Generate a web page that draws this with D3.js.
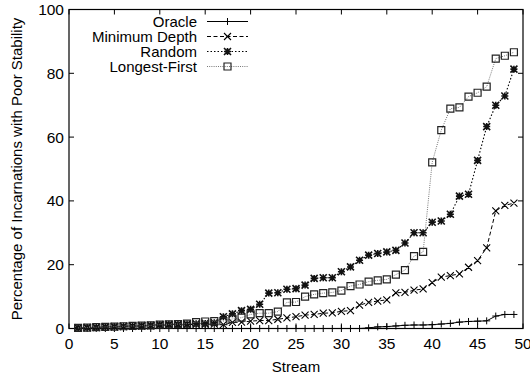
<!DOCTYPE html>
<html><head><meta charset="utf-8">
<script src="https://cdn.jsdelivr.net/npm/d3@7"></script>
<style>html,body{margin:0;padding:0;background:#fff}svg{display:block}text{font-family:"Liberation Sans",Arial,Helvetica,sans-serif;fill:#000}</style>
</head><body><svg id="c" width="530" height="376"></svg>
<script>
const streams = d3.range(1, 50);
const oracle = [0,0,0,0,0,0,0,0,0,0, 0,0,0,0,0,0,0,0,0,0, 0,0,0,0,0,0,0,0,0,0, 0,0,0.2,0.5,0.6,0.8,1.0,1.1,1.1,1.2, 1.4,1.6,2.0,2.2,2.3,2.4,3.9,4.4,4.4];
const minDepth = [0.1,0.2,0.3,0.4,0.5,0.6,0.7,0.8,0.9,1.0, 1.1,1.1,1.2,1.3,1.3,1.4,1.2,1.9,2.0,2.3, 2.5,2.5,2.9,3.3,3.7,4.2,4.4,4.8,4.9,5.4, 5.6,7.3,8.2,8.6,9.0,11.2,11.3,12.0,12.4,14.4, 16.1,16.6,17.1,19.2,21.3,25.3,36.9,38.6,39.3];
const random = [0.2,0.3,0.4,0.5,0.6,0.7,0.8,0.9,1.0,1.2, 1.3,1.3,1.4,1.5,1.6,1.8,3.7,4.6,5.6,6.0, 7.6,11.1,11.2,12.3,12.5,13.6,15.7,15.9,15.9,17.8, 19.3,21.4,23.0,23.5,24.0,24.5,26.8,30.0,30.0,33.3, 33.7,35.8,41.5,42.1,52.7,63.3,70.0,72.9,81.3];
const longestFirst = [0.2,0.3,0.4,0.5,0.6,0.7,0.8,0.9,1.0,1.2, 1.3,1.4,1.5,2.0,2.2,2.3,2.3,3.0,3.4,4.4, 4.8,4.8,5.3,8.2,8.3,10.0,10.7,11.1,11.3,11.9, 13.3,13.8,14.7,15.1,15.4,16.9,18.3,22.7,24.0,52.1, 62.2,68.9,69.3,72.7,73.9,75.8,84.6,85.5,86.6];
const seriesNames = ["Oracle", "Minimum Depth", "Random", "Longest-First"];
const xTicks = [0,5,10,15,20,25,30,35,40,45,50];
const yTicks = [0,20,40,60,80,100];

const svg = d3.select("#c");
const L = 69, R = 523, T = 9.5, B = 328.5;
const x = d3.scaleLinear().domain([0,50]).range([L,R]);
const y = d3.scaleLinear().domain([0,100]).range([B,T]);

// ticks (inward, mirrored)
const tk = 5;
const g = svg.append("g").attr("stroke","#000").attr("stroke-width",1);
xTicks.forEach(t=>{
  g.append("line").attr("x1",x(t)).attr("x2",x(t)).attr("y1",B).attr("y2",B-tk);
  g.append("line").attr("x1",x(t)).attr("x2",x(t)).attr("y1",T).attr("y2",T+tk);
});
yTicks.forEach(t=>{
  g.append("line").attr("x1",L).attr("x2",L+tk).attr("y1",y(t)).attr("y2",y(t));
  g.append("line").attr("x1",R).attr("x2",R-tk).attr("y1",y(t)).attr("y2",y(t));
});
svg.append("rect").attr("x",L).attr("y",T).attr("width",R-L).attr("height",B-T)
  .attr("fill","none").attr("stroke","#000").attr("stroke-width",1.2);

svg.selectAll(".xl").data(xTicks).enter().append("text")
  .attr("x",d=>x(d)).attr("y",349).attr("text-anchor","middle").attr("font-size","15.5px").text(d=>d);
svg.selectAll(".yl").data(yTicks).enter().append("text")
  .attr("x",64).attr("y",d=>y(d)+5.5).attr("text-anchor","end").attr("font-size","15.5px").text(d=>d);
svg.append("text").attr("x",(L+R)/2).attr("y",372).attr("text-anchor","middle").attr("font-size","15px").text("Stream");
svg.append("text").attr("transform",`translate(22,${(T+B)/2}) rotate(-90)`).attr("text-anchor","middle")
  .attr("font-size","15px").text("Percentage of Incarnations with Poor Stability");

// markers
function mk(type, cx, cy){
  const s=3.5;
  if(type==="plus") return `M${cx-s},${cy}H${cx+s}M${cx},${cy-s}V${cy+s}`;
  if(type==="cross") return `M${cx-s},${cy-s}L${cx+s},${cy+s}M${cx-s},${cy+s}L${cx+s},${cy-s}`;
  if(type==="star") return `M${cx-s},${cy}H${cx+s}M${cx},${cy-s}V${cy+s}M${cx-s},${cy-s}L${cx+s},${cy+s}M${cx-s},${cy+s}L${cx+s},${cy-s}`;
  return `M${cx-s},${cy-s}H${cx+s}V${cy+s}H${cx-s}Z`;
}
const styles = [
  {data:oracle, dash:null, color:"#000", lw:1, marker:"plus", mcol:"#000", mw:1},
  {data:minDepth, dash:"4,2.5", color:"#000", lw:1, marker:"cross", mcol:"#000", mw:1.1},
  {data:random, dash:"1.5,2", color:"#000", lw:1.1, marker:"star", mcol:"#111", mw:1.6},
  {data:longestFirst, dash:"1,1.2", color:"#777", lw:1, marker:"square", mcol:"#222", mw:1.2}
];
const line = d3.line().x((d,i)=>x(streams[i])).y(d=>y(d));
styles.forEach(st=>{
  const p = svg.append("path").attr("d",line(st.data)).attr("fill","none")
    .attr("stroke",st.color).attr("stroke-width",st.lw);
  if(st.dash) p.attr("stroke-dasharray",st.dash);
  svg.append("path").attr("d",st.data.map((d,i)=>mk(st.marker,x(streams[i]),y(d))).join(""))
    .attr("fill","none").attr("stroke",st.mcol).attr("stroke-width",st.mw);
});

// legend
const lg = svg.append("g");
styles.forEach((st,i)=>{
  const ly = 21.5 + i*15;
  lg.append("text").attr("x",197).attr("y",ly+5).attr("text-anchor","end").attr("font-size","15px").text(seriesNames[i]);
  const p = lg.append("line").attr("x1",207).attr("x2",248).attr("y1",ly).attr("y2",ly)
    .attr("stroke",st.color).attr("stroke-width",st.lw);
  if(st.dash) p.attr("stroke-dasharray",st.dash);
  lg.append("path").attr("d",mk(st.marker,227.5,ly)).attr("fill","none").attr("stroke",st.mcol).attr("stroke-width",st.mw);
});
</script></body></html>
